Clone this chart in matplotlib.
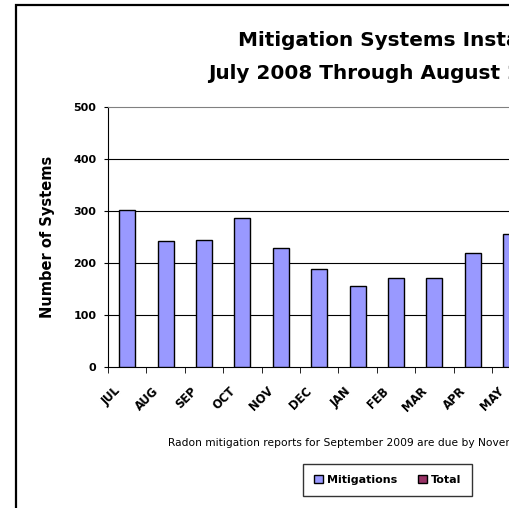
import matplotlib
matplotlib.use('Agg')
import matplotlib.pyplot as plt
import matplotlib.transforms as mtransforms
from matplotlib.patches import Rectangle, Patch
import numpy as np

plt.rcParams['font.family'] = ['DejaVu Sans']

# data
months = ['JUL', 'AUG', 'SEP', 'OCT', 'NOV', 'DEC', 'JAN', 'FEB', 'MAR', 'APR', 'MAY']
mitigations = [301, 243, 244, 287, 229, 188, 156, 172, 171, 220, 256]
yticks = [0, 100, 200, 300, 400, 500]

W, H = 510, 508
fig = plt.figure(figsize=(W / 100, H / 100), dpi=100)

# outer chart frame (right/bottom run off the picture)
fig.patches.append(Rectangle((16 / W, -0.1), 2.0, 1 - 5 / H + 0.1, transform=fig.transFigure,
                             fill=False, edgecolor='black', linewidth=1.6, zorder=0))

n_cat = 14
ax = fig.add_axes([108 / W, 1 - 367 / H, n_cat * 38.4 / W, 260 / H])
x = np.arange(len(months))
ax.bar(x, mitigations, width=0.42, color='#9999FF', edgecolor='black', linewidth=1.0, zorder=3)

ax.set_xlim(-0.5, n_cat - 0.5)
ax.set_ylim(0, 500)
ax.set_yticks(yticks)
ax.set_yticklabels([str(v) for v in yticks], fontsize=8, fontweight='bold')
for v in yticks[1:-1]:
    ax.axhline(v, color='black', linewidth=0.8, zorder=1)

ax.set_xticks(x)
ax.set_xticklabels(months, fontsize=8.3, fontweight='bold', rotation=45, ha='right', va='center',
                   rotation_mode='anchor')
ax.set_xticks(np.arange(-0.5, n_cat, 1.0), minor=True)
ax.tick_params(axis='x', which='major', length=0, pad=16)
ax.tick_params(axis='x', which='minor', length=4, direction='out', color='black')
ax.tick_params(axis='y', length=3, direction='out', pad=5.5, color='black')
shift = mtransforms.ScaledTranslation(-9 / 100, 0, fig.dpi_scale_trans)
for lbl in ax.get_xticklabels():
    lbl.set_transform(lbl.get_transform() + shift)

ax.spines['top'].set_color('#808080')
ax.spines['right'].set_visible(False)
ax.spines['left'].set_color('black')
ax.spines['bottom'].set_color('black')

ax.set_ylabel('Number of Systems', fontsize=10.5, fontweight='bold')
ax.yaxis.set_label_coords(-(108 - 48) / (n_cat * 38.4), 0.5)
ax.yaxis.label.set_va('center')

fig.text(238 / W, 1 - 45.5 / H, 'Mitigation Systems Installed', fontsize=14.4, fontweight='bold',
         ha='left', va='baseline')
fig.text(208 / W, 1 - 79 / H, 'July 2008 Through August 2009', fontsize=14.4, fontweight='bold',
         ha='left', va='baseline')

fig.text(168 / W, 1 - 446 / H, 'Radon mitigation reports for September 2009 are due by November 2009.',
         fontsize=7.7, ha='left', va='baseline')

handles = [Patch(facecolor='#9999FF', edgecolor='black', label='Mitigations'),
           Patch(facecolor='#993366', edgecolor='black', label='Total')]
leg = fig.legend(handles=handles, loc='center', bbox_to_anchor=(387.5 / W, 1 - 480 / H), ncol=2,
                 prop={'size': 8, 'weight': 'bold'}, fancybox=False, frameon=True,
                 handlelength=0.8, handleheight=0.8, handletextpad=0.35, columnspacing=1.9,
                 borderpad=1.0, borderaxespad=0)
leg.get_frame().set_edgecolor('black')
leg.get_frame().set_linewidth(1.0)

fig.savefig('out.png', dpi=100)
